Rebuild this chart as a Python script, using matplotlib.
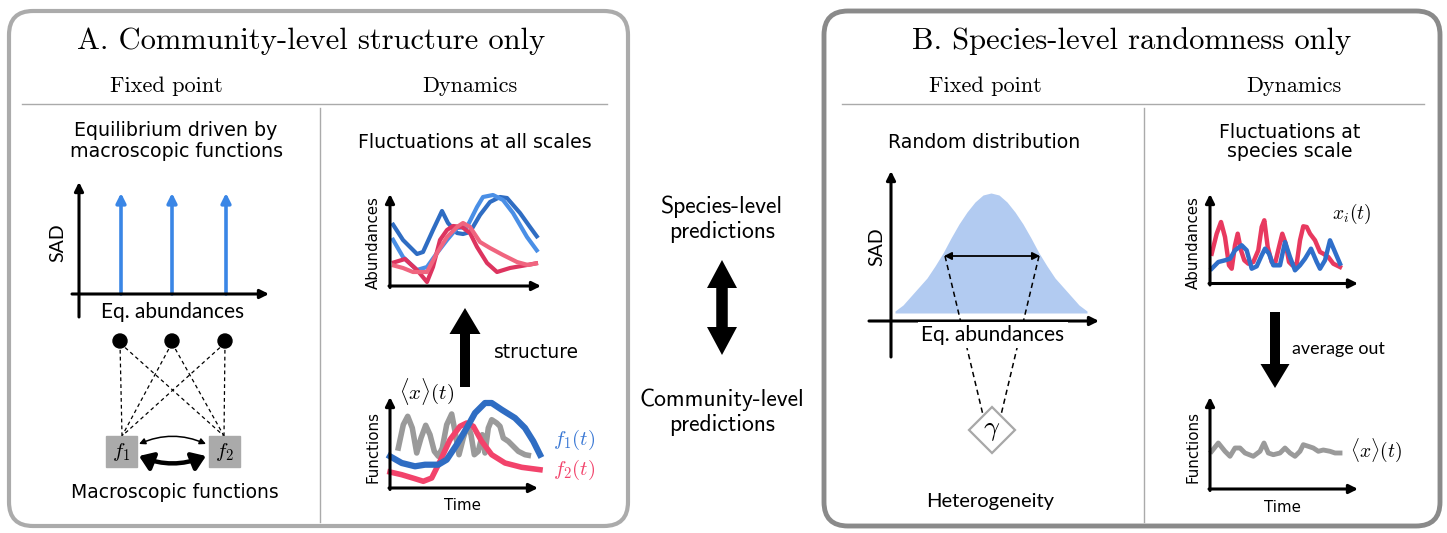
import matplotlib
matplotlib.use("Agg")
import matplotlib.pyplot as plt
from matplotlib.patches import FancyBboxPatch, FancyArrowPatch, FancyArrow, Rectangle, Circle, Polygon

plt.rcParams['mathtext.fontset'] = 'cm'

# ---------------- data ----------------
# Panel A - SAD (delta peaks)
sadA_x = [42, 93, 147]
sadA_h = [101, 101, 101]

# Panel A - abundances (t, value)
absA_dark_t = [2, 13, 27, 33, 43, 52, 58, 67, 73, 80, 90, 100, 110, 117, 130, 140, 148]
absA_dark_v = [63, 46, 32, 34, 56, 75, 63, 53, 52, 54, 71, 84, 89, 88, 73, 59, 48]
absA_light_t = [2, 13, 27, 37, 47, 57, 67, 77, 87, 93, 103, 113, 123, 137, 148]
absA_light_v = [48, 29, 16, 19, 33, 46, 58, 59, 79, 89, 91, 86, 73, 49, 34]
absA_red_t = [2, 15, 27, 37, 43, 50, 57, 63, 72, 80, 87, 97, 107, 120, 137, 148]
absA_red_v = [23, 27, 16, 4, 19, 46, 56, 60, 59, 53, 39, 23, 14, 18, 21, 23]
absA_pink_t = [2, 13, 23, 37, 47, 57, 67, 73, 80, 90, 100, 113, 127, 138, 148]
absA_pink_v = [21, 18, 14, 14, 33, 49, 59, 63, 59, 44, 38, 31, 24, 21, 23]

# Panel A - functions
funA_f1_t = [0, 11.7, 25, 35, 48.3, 56.7, 66.7, 76.7, 85, 95, 101.7, 111.7, 125, 135, 143.3, 150]
funA_f1_v = [31.7, 25, 21.7, 23.3, 23.3, 28.3, 43.3, 60, 75, 85, 85, 78.3, 70, 60, 46.7, 33.3]
funA_f2_t = [0, 11.7, 25, 33.3, 41.7, 50, 60, 70, 76.7, 83.3, 91.7, 101.7, 115, 131.7, 150]
funA_f2_v = [16, 13.3, 9.3, 6.7, 10, 26.7, 48.3, 61.7, 65, 61.7, 46.7, 33.3, 25, 20.7, 18.3]
funA_mean_t = [8.3, 13.3, 17.7, 22.3, 26.7, 31, 35.7, 40, 44.3, 48.3, 52.3, 56.7, 61.7, 65, 69,
               73.3, 77.7, 81, 84.3, 88.3, 92.3, 95, 98.3, 101.7, 106.7, 110, 113.3, 118.3,
               123.3, 128.3, 135, 138.3]
funA_mean_v = [40, 63.3, 71.7, 60, 35, 50, 62.7, 53.3, 36.7, 31.7, 40, 63.3, 74, 56.7, 33.3,
               50, 63.3, 53.3, 33.3, 36.7, 53.3, 35, 60, 68.3, 65, 61.7, 50, 46.7,
               41.7, 36.7, 33.3, 32.7]

# Panel B - SAD (random distribution): offset from centre, height
sadB_center = 100
sadB_base = 8
sadB_d = [-96, -88, -80, -72, -64, -56, -48, -40, -32, -24, -16, -8, 0,
          8, 16, 24, 32, 40, 48, 56, 64, 72, 80, 88, 96]
sadB_h = [2, 8, 17, 26, 35, 47, 60, 75, 89, 101, 111, 118, 120,
          118, 111, 101, 89, 75, 60, 47, 35, 26, 17, 8, 2]

# Panel B - abundances
absB_red_t = [1.7, 6.7, 11, 15, 19, 21.7, 25, 27.7, 31, 34.3, 38.3, 43.3, 48.3, 51.7, 54.3,
              57.7, 61.7, 65, 69, 72.3, 75.7, 79, 82.3, 86.7, 90, 93.3, 96.7, 100, 105,
              110, 113.3, 118.3, 123.3, 130]
absB_red_v = [29.3, 49.3, 61, 46, 17.7, 14.3, 37.7, 49.3, 32.7, 22.7, 19.3, 21, 32.7, 56, 62.7,
              36, 21, 19.3, 36, 49.3, 39.3, 21, 17.7, 19.3, 42.7, 56.7, 56, 49.3, 42.7,
              31, 29.3, 26, 19.3, 16]
absB_blue_t = [1.7, 8.3, 15, 20, 25, 31.7, 36.7, 41.7, 46.7, 51.7, 55, 59, 63.3, 70, 75, 80,
               85, 90, 95, 101, 106.7, 110, 115, 120, 125, 130]
absB_blue_v = [14.3, 21, 22.7, 24.3, 32.7, 37.7, 32.7, 14.3, 16.7, 27.7, 34.3, 29.3, 17.7, 17.7,
               41, 26, 12.7, 17.7, 24.3, 34.3, 21, 14.3, 22.7, 42.7, 31, 19.3]

# Panel B - functions (community average)
funB_mean_t = [1.7, 8.3, 15, 20, 25, 30, 35, 43.3, 50, 54, 58.3, 63.3, 70, 75, 80, 85, 90,
               93.3, 98.3, 103.3, 108.3, 113.3, 120, 125, 130]
funB_mean_v = [37.7, 46, 37.7, 32.7, 41, 41, 36, 32.7, 37.7, 46, 36, 34.3, 36, 41, 36, 32.7,
               37.7, 44.3, 42.7, 41, 37.7, 39, 37.7, 36, 36]

# ---------------- styles ----------------
W, H = 1447, 533
BLUE_D = '#2f6dc3'
BLUE_L = '#4a8fe6'
RED_D = '#dd345f'
RED_L = '#f0657f'
RED_F = '#f2436b'
GRAY = '#9a9a9a'
SERIF = ['cmr10', 'DejaVu Serif']
DEJ = ['DejaVu Sans']
LATO = ['Lato', 'DejaVu Sans']
CMSS = ['cmss10', 'DejaVu Sans']

fig = plt.figure(figsize=(W / 100, H / 100), dpi=100)
bg = fig.add_axes([0, 0, 1, 1])
bg.set_xlim(0, W); bg.set_ylim(H, 0); bg.axis('off')


def inset(x0, y0, w, h):
    a = fig.add_axes([x0 / W, 1 - y0 / H, w / W, h / H])
    a.set_xlim(0, w); a.set_ylim(0, h); a.axis('off')
    a.patch.set_alpha(0)
    return a


# panel boxes
bg.add_patch(FancyBboxPatch((9, 11), 619, 515, boxstyle='round,pad=0,rounding_size=24',
                            lw=3, ec='#ababab', fc='white'))
bg.add_patch(FancyBboxPatch((824, 11), 616, 515, boxstyle='round,pad=0,rounding_size=24',
                            lw=3.5, ec='#8a8a8a', fc='white'))
for (x0, x1) in [(22, 607), (842, 1424)]:
    bg.plot([x0, x1], [104, 104], color='#aaaaaa', lw=1)
for xv in [320, 1144]:
    bg.plot([xv, xv], [108, 522], color='#aaaaaa', lw=1)

# ---------------- insets ----------------
# A SAD
aS = inset(79, 294, 189, 111)
for x, h in zip(sadA_x, sadA_h):
    aS.annotate('', xy=(x, h), xytext=(x, 0), annotation_clip=False,
                arrowprops=dict(arrowstyle='-|>', lw=2.6, color='#3a86e6', mutation_scale=14,
                                shrinkA=0, shrinkB=0))

# A abundances
aA = inset(390, 286, 150, 91)
kw = dict(lw=3, solid_capstyle='butt', solid_joinstyle='round', clip_on=False)
aA.plot(absA_dark_t, absA_dark_v, color=BLUE_D, **kw)
aA.plot(absA_light_t, absA_light_v, color=BLUE_L, **kw)
aA.plot(absA_red_t, absA_red_v, color=RED_D, **kw)
aA.plot(absA_pink_t, absA_pink_v, color=RED_L, **kw)

# A functions
aF = inset(390, 488, 150, 91)
aF.plot(funA_mean_t, funA_mean_v, color=GRAY, lw=4, solid_joinstyle='round', clip_on=False)
aF.plot(funA_f2_t, funA_f2_v, color=RED_F, lw=4, solid_joinstyle='round', clip_on=False)
aF.plot(funA_f1_t, funA_f1_v, color=BLUE_D, lw=4.5, solid_joinstyle='round', clip_on=False)

# B SAD
bS = inset(891, 321, 207, 149)
xs = [sadB_center + d for d in sadB_d]
bS.fill_between(xs, [sadB_base] * len(xs), [sadB_base + h for h in sadB_h],
                color='#b2cbf1', lw=0)

# B abundances
bA = inset(1210, 283, 149, 89)
bA.plot(absB_red_t, absB_red_v, color='#e8395f', lw=3.2, solid_joinstyle='round', clip_on=False)
bA.plot(absB_blue_t, absB_blue_v, color='#2f6fca', lw=3.2, solid_joinstyle='round', clip_on=False)

# B functions
bF = inset(1210, 489, 149, 91)
bF.plot(funB_mean_t, funB_mean_v, color=GRAY, lw=3.5, solid_joinstyle='round', clip_on=False)

# ---------------- overlay ----------------
top = fig.add_axes([0, 0, 1, 1])
top.set_xlim(0, W); top.set_ylim(H, 0); top.axis('off'); top.patch.set_alpha(0)


def axis_arrow(p0, p1, lw=2.2, ms=13):
    top.add_patch(FancyArrowPatch(p0, p1, arrowstyle='-|>', mutation_scale=ms, lw=lw,
                                  color='k', shrinkA=0, shrinkB=0, zorder=3))


def txt(x, y, s, size, family=DEJ, **k):
    top.text(x, y, s, fontsize=size, family=family, ha=k.pop('ha', 'center'),
             va=k.pop('va', 'center'), **k)


# A SAD axes
axis_arrow((79, 317), (79, 182))
axis_arrow((72, 294), (269, 294))
# A abundances axes
axis_arrow((390, 287.5), (390, 194))
axis_arrow((389, 286), (541, 286))
# A functions axes
axis_arrow((390, 489.5), (390, 397))
axis_arrow((389, 488), (538, 488))
# B SAD axes
axis_arrow((891, 357), (891, 171))
axis_arrow((869, 321), (1099, 321))
# B abundances axes
axis_arrow((1210, 285), (1210, 194))
axis_arrow((1209, 283.5), (1358, 283.5))
# B functions axes
axis_arrow((1210, 490.5), (1210, 397))
axis_arrow((1209, 489), (1358, 489))

# A network
dots_x = [120, 172, 225]
for dx in dots_x:
    top.add_patch(Circle((dx, 341), 7, color='k', zorder=4))
    for fx in (122, 224):
        top.plot([dx, fx], [343, 436], color='k', lw=0.9, ls=(0, (3, 2.5)), zorder=2)
for fx, lab in [(106, '$f_1$'), (209, '$f_2$')]:
    top.add_patch(Rectangle((fx, 436), 31, 31, color='#aaaaaa', zorder=3))
    txt(fx + 15.5, 452, lab, 15, zorder=4)
top.add_patch(FancyArrowPatch((139, 444), (206, 444), connectionstyle='arc3,rad=-0.22',
                              arrowstyle='<|-|>', mutation_scale=9, lw=1.1, color='k',
                              shrinkA=0, shrinkB=0))
top.add_patch(FancyArrowPatch((139, 456), (206, 456), connectionstyle='arc3,rad=0.2',
                              arrowstyle='<|-|>,head_length=0.5,head_width=0.35',
                              mutation_scale=16, lw=3.2, color='k', shrinkA=0, shrinkB=0))

# big arrows
top.add_patch(FancyArrow(465, 387, 0, -79, width=10, head_width=31, head_length=26,
                         length_includes_head=True, color='k', lw=0))
top.add_patch(FancyArrow(1275, 312, 0, 76, width=10, head_width=29, head_length=24,
                         length_includes_head=True, color='k', lw=0))
top.add_patch(FancyArrow(722, 330, 0, -70, width=11, head_width=30, head_length=28,
                         length_includes_head=True, color='k', lw=0))
top.add_patch(FancyArrow(722, 285, 0, 70, width=11, head_width=30, head_length=28,
                         length_includes_head=True, color='k', lw=0))

# B SAD decorations
top.plot([945, 983], [256, 415], color='k', lw=1.1, ls=(0, (3.5, 2.5)), zorder=2)
top.plot([1039, 1001], [256, 415], color='k', lw=1.1, ls=(0, (3.5, 2.5)), zorder=2)
top.add_patch(FancyArrowPatch((944, 256), (1040, 256), arrowstyle='<|-|>', mutation_scale=11,
                              lw=1.3, color='k', shrinkA=0, shrinkB=0, zorder=3))
top.add_patch(Polygon([(992, 407), (1015, 430), (992, 453), (969, 430)], closed=True,
                      fc='white', ec='#a8a8a8', lw=1.6, zorder=4))
txt(992, 429, r'$\gamma$', 20, zorder=5)

# ---------------- texts ----------------
txt(311, 41, 'A. Community-level structure only', 22, SERIF)
txt(166, 86, 'Fixed point', 16, SERIF)
txt(470, 86, 'Dynamics', 16, SERIF)
txt(1132, 41, 'B. Species-level randomness only', 22, SERIF)
txt(985, 86, 'Fixed point', 16, SERIF)
txt(1294, 86, 'Dynamics', 16, SERIF)

txt(176, 141, 'Equilibrium driven by\nmacroscopic functions', 13.7, linespacing=1.1)
txt(58, 243, 'SAD', 14, LATO, rotation=90)
txt(173, 312, 'Eq. abundances', 15, LATO)
txt(175, 492, 'Macroscopic functions', 13.5)

txt(475, 143, 'Fluctuations at all scales', 13.6)
txt(373, 243, 'Abundances', 10.8, rotation=90)
txt(536, 352, 'structure', 13.4)
txt(427, 392, r'$\langle x\rangle(t)$', 15)
txt(373, 447, 'Functions', 10.8, rotation=90)
txt(462, 505, 'Time', 10.8)
txt(574, 440, r'$f_1(t)$', 15, color='#3a78d4')
txt(574, 470, r'$f_2(t)$', 15, color=RED_F)

txt(722, 219, 'Species-level\npredictions', 17, CMSS, linespacing=1.15)
txt(722, 412, 'Community-level\npredictions', 17, CMSS, linespacing=1.15)

txt(984, 143, 'Random distribution', 13.6)
txt(877, 247, 'SAD', 14, LATO, rotation=90)
txt(993, 335, 'Eq. abundances', 15, LATO, zorder=6,
    bbox=dict(boxstyle='square,pad=0.15', fc='white', ec='none'))
txt(990, 502, 'Heterogeneity', 14.5, LATO)

txt(1290, 142, 'Fluctuations at\nspecies scale', 13.7, linespacing=1.05)
txt(1193, 243, 'Abundances', 10.8, rotation=90)
txt(1352, 214, r'$x_i(t)$', 14)
txt(1292, 349, 'average out', 12.9, LATO, ha='left')
txt(1193, 447, 'Functions', 10.8, rotation=90)
txt(1282, 507, 'Time', 10.8)
txt(1376, 450, r'$\langle x\rangle(t)$', 14)

fig.savefig('out.png', dpi=100)
